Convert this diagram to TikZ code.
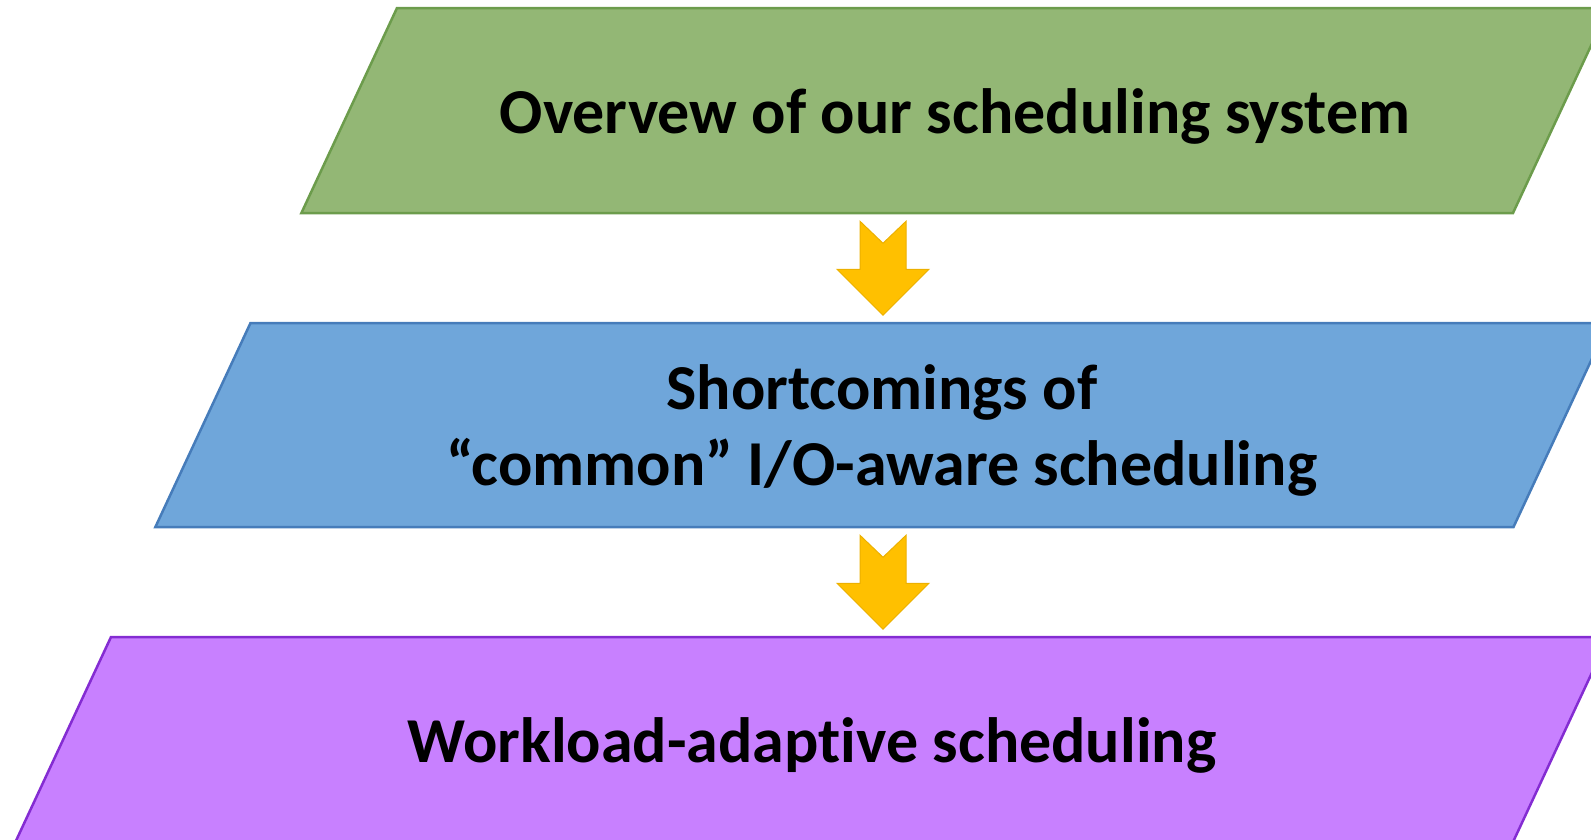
\documentclass[tikz,border=0pt]{standalone}
\usepackage{fontspec}
\setmainfont{Carlito}[Ligatures=NoCommon]
\usetikzlibrary{shapes.geometric,calc}

\definecolor{overviewfill}{RGB}{147,183,117}
\definecolor{overviewline}{RGB}{108,156,76}
\definecolor{shortfill}{RGB}{111,166,218}
\definecolor{shortline}{RGB}{70,124,186}
\definecolor{adaptfill}{RGB}{200,128,255}
\definecolor{adaptline}{RGB}{132,44,210}
\definecolor{arrowgold}{RGB}{255,192,0}
\definecolor{arrowedge}{RGB}{236,176,0}

\tikzset{
  stage/.style={trapezium, trapezium left angle=65, trapezium right angle=115,
                line width=2.5pt, inner xsep=0pt, inner ysep=80pt,
                text height=45pt, text depth=0pt, align=flush center,
                font=\fontsize{64}{76}\selectfont\bfseries},
  downarrow/.style={fill=arrowgold, draw=arrowedge, line width=1pt, line join=miter}
}

\begin{document}
\begin{tikzpicture}[x=1pt, y=-1pt]
  \clip (0,0) rectangle (1591,839);

  % the three stages, the right side runs off the page
  \node[stage, fill=overviewfill, draw=overviewline, text width=1116pt]
        (overview) at (955,110.5) {Overvew of our scheduling system};
  \node[stage, fill=shortfill, draw=shortline, text width=1263pt,
        text depth=76pt, inner ysep=41.5pt]
        (short) at (882,425) {Shortcomings of\\``common'' I/O-aware scheduling};
  \node[stage, fill=adaptfill, draw=adaptline, text width=1402pt]
        (adapt) at (812,739.5) {Workload-adaptive scheduling};

  % notched block arrows between the stages
  \foreach \from in {overview,short} {
    \coordinate (\from-tail) at ($(\from.south -| short.center)+(1,7)$);
    \draw[downarrow] (\from-tail) ++(-23,0) -- ++(23,22) -- ++(23,-22)
      -- ++(0,48) -- ++(23,0) -- ++(-46,46) -- ++(-46,-46) -- ++(23,0) -- cycle;
  }
\end{tikzpicture}
\end{document}
